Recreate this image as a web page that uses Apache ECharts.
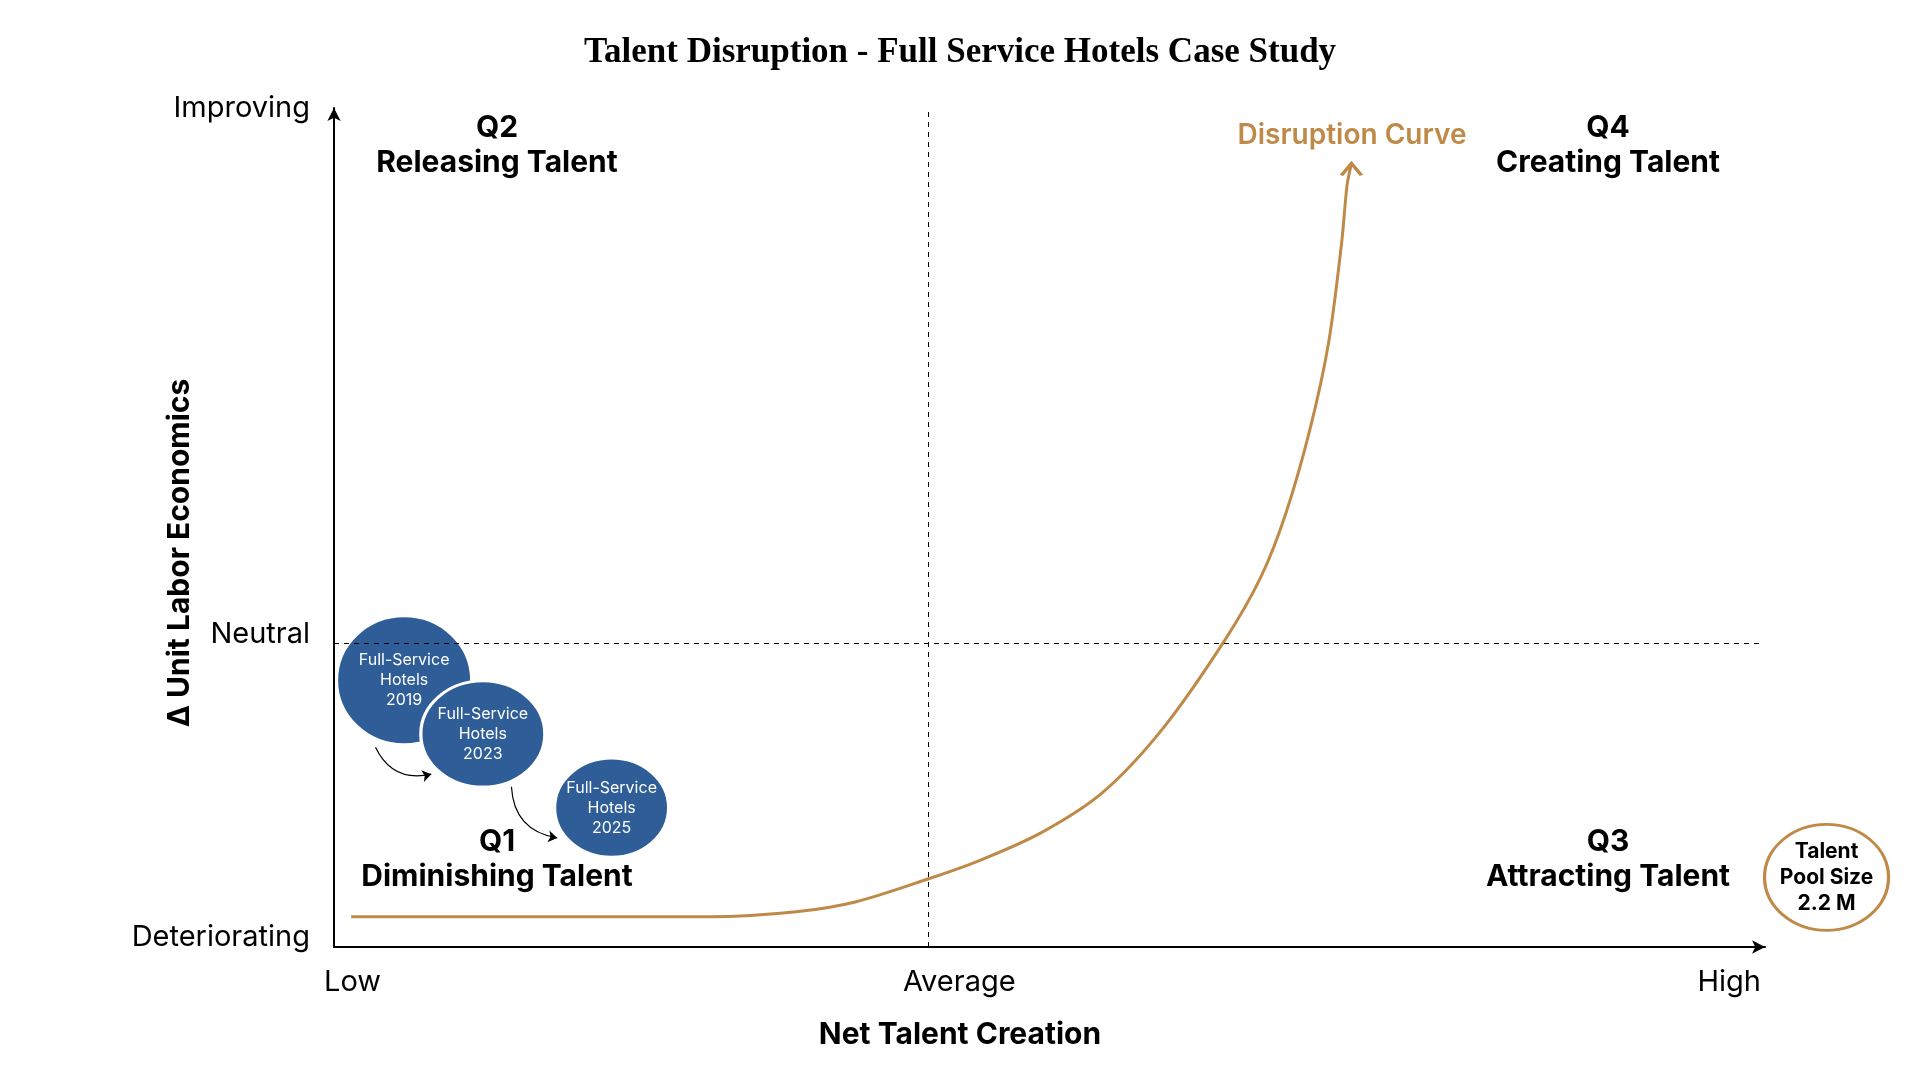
<!DOCTYPE html>
<html>
<head>
<meta charset="utf-8">
<title>Talent Disruption - Full Service Hotels Case Study</title>
<script src="https://cdn.jsdelivr.net/npm/echarts@6/dist/echarts.min.js"></script>
<style>
    html, body { margin: 0; padding: 0; background: #fff; }
    #chart { width: 1920px; height: 1080px; }
</style>
</head>
<body>
<div id="chart"></div>
<script>
// axis ticks (custom positions, 0..100 scale on both axes)
const xTickValues = [1.3, 43.7, 97.5];
const xTickLabels = ["Low", "Average", "High"];
const yTickValues = [1.2, 37.3, 100];
const yTickLabels = ["Deteriorating", "Neutral", "Improving"];

// quadrant split lines
const averageLevel = 41.5;
const neutralLevel = 36.2;
const neutralEnd = 99.6;

// disruption curve
const curveX = [1.2, 26.3, 32.3, 36.5, 41.5, 45.1, 49.4, 53.7, 57.9, 62.3, 64.8, 66.5, 68.2, 69.5, 70.4, 70.8, 71.1];
const curveY = [3.6, 3.6, 4.2, 5.4, 8.1, 10.3, 13.6, 18.4, 26.0, 36.7, 44.2, 51.6, 61.7, 72.0, 83.7, 90.9, 93.4];

// hotel bubbles
const bubbleNames = ["Full-Service\nHotels\n2019", "Full-Service\nHotels\n2023", "Full-Service\nHotels\n2025"];
const bubbleX = [4.9, 10.4, 19.4];
const bubbleY = [31.8, 25.4, 16.6];

// movement arrows between bubbles
const moveFrom = [[2.9, 23.8], [12.4, 19.1]];
const moveTo = [[6.8, 20.6], [15.6, 13.0]];

// talent pool badge
const poolLabel = "Talent\nPool Size\n2.2 M";
const poolX = 104.3;
const poolY = 8.3;

const GOLD = "#BF8A48";
const BLUE = "#2E5D97";
const FONT = "Inter";

const findLabel = (values, labels, v) => {
    const i = values.findIndex((t) => Math.abs(t - v) < 0.01);
    return i >= 0 ? labels[i] : "";
};

const chart = echarts.init(document.getElementById("chart"));

const curveData = curveX.map((x, i) => [x, curveY[i]]);
// open chevron on the curve tip
curveData[curveData.length - 1] = {
    value: curveData[curveData.length - 1],
    symbol: "path://M0,12 L10,0 L20,12",
    symbolSize: [20, 12],
    symbolOffset: [0, 6],
    itemStyle: { color: "none", borderColor: GOLD, borderWidth: 3 },
};

const bubbleSizes = [[135, 129], [124, 106], [114, 99]];

const quadText = (x, y, text) => ({
    type: "text", x, y,
    style: { text, font: "bold 30px " + FONT, lineHeight: 35, fill: "#000", align: "center", verticalAlign: "middle" },
});

const option = {
    animation: false,
    backgroundColor: "#fff",
    grid: { left: 334, right: 155, top: 108, bottom: 133 },
    xAxis: {
        type: "value",
        min: 0,
        max: 100,
        splitLine: { show: false },
        axisTick: { show: false },
        axisLine: {
            show: true,
            symbol: ["none", "arrow"],
            symbolSize: [10, 13],
            lineStyle: { color: "#000", width: 2 },
        },
        axisLabel: {
            customValues: xTickValues,
            formatter: (v) => findLabel(xTickValues, xTickLabels, v),
            margin: 21,
            color: "#000",
            fontFamily: FONT,
            fontSize: 29,
        },
    },
    yAxis: {
        type: "value",
        min: 0,
        max: 100,
        splitLine: { show: false },
        axisTick: { show: false },
        axisLine: {
            show: true,
            symbol: ["none", "arrow"],
            symbolSize: [10, 13],
            lineStyle: { color: "#000", width: 2 },
        },
        axisLabel: {
            customValues: yTickValues,
            formatter: (v) => findLabel(yTickValues, yTickLabels, v),
            margin: 24,
            color: "#000",
            fontFamily: FONT,
            fontSize: 29,
        },
    },
    graphic: [
        {
            type: "text", x: 960, y: 53,
            style: { text: "Talent Disruption - Full Service Hotels Case Study", font: "bold 35px 'Liberation Serif'", fill: "#000", align: "center", verticalAlign: "middle" },
        },
        quadText(497, 145, "Q2\nReleasing Talent"),
        quadText(1608, 145, "Q4\nCreating Talent"),
        quadText(497, 859, "Q1\nDiminishing Talent"),
        quadText(1608, 859, "Q3\nAttracting Talent"),
        {
            type: "text", x: 1352, y: 136,
            style: { text: "Disruption Curve", font: "600 28px " + FONT, fill: GOLD, align: "center", verticalAlign: "middle" },
        },
        {
            type: "text", x: 180, y: 553, rotation: Math.PI / 2,
            style: { text: "Δ Unit Labor Economics", font: "bold 30px " + FONT, fill: "#000", align: "center", verticalAlign: "middle" },
        },
        {
            type: "text", x: 960, y: 1035,
            style: { text: "Net Talent Creation", font: "bold 30px " + FONT, fill: "#000", align: "center", verticalAlign: "middle" },
        },
    ],
    series: [
        {
            name: "Disruption Curve",
            type: "line",
            data: curveData,
            smooth: 0.3,
            symbol: "none",
            lineStyle: { color: GOLD, width: 3 },
            z: 3,
            markLine: {
                silent: true,
                symbol: "none",
                label: { show: false },
                lineStyle: { color: "#000", type: [5, 5], width: 1 },
                data: [
                    { xAxis: averageLevel },
                    [{ coord: [0, neutralLevel] }, { coord: [neutralEnd, neutralLevel] }],
                ],
            },
        },
        {
            name: "Hotels",
            type: "scatter",
            data: bubbleX.map((x, i) => ({
                value: [x, bubbleY[i]],
                name: bubbleNames[i],
                symbolSize: bubbleSizes[i],
            })),
            itemStyle: { color: BLUE, borderColor: "#fff", borderWidth: 3, opacity: 1 },
            label: {
                show: true,
                position: "inside",
                formatter: (p) => p.name,
                color: "#fff",
                fontFamily: FONT,
                fontSize: 16,
                lineHeight: 20,
            },
            z: 4,
        },
        {
            name: "Moves",
            type: "lines",
            coordinateSystem: "cartesian2d",
            symbol: ["none", "arrow"],
            symbolSize: 9,
            lineStyle: { color: "#000", width: 1.2, curveness: -0.4, opacity: 1 },
            data: moveFrom.map((c, i) => ({ coords: [c, moveTo[i]] })),
            z: 4,
        },
        {
            name: "Talent Pool",
            type: "scatter",
            clip: false,
            data: [{ value: [poolX, poolY], name: poolLabel }],
            symbolSize: [124, 106],
            itemStyle: { color: "#fff", borderColor: GOLD, borderWidth: 3, opacity: 1 },
            label: {
                show: true,
                position: "inside",
                formatter: (p) => p.name,
                color: "#000",
                fontFamily: FONT,
                fontWeight: "bold",
                fontSize: 21,
                lineHeight: 26,
            },
            z: 4,
        },
    ],
};

chart.setOption(option);
window.addEventListener("resize", () => chart.resize());
</script>
</body>
</html>
